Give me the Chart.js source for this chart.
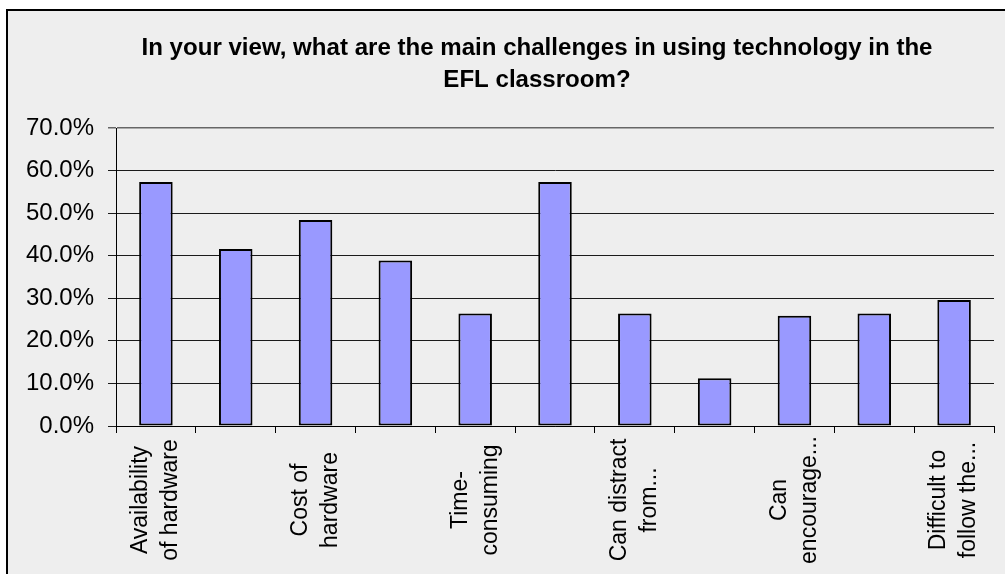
<!DOCTYPE html>
<html>
<head>
<meta charset="utf-8">
<title>Main challenges in using technology in the EFL classroom</title>
<script src="https://cdn.jsdelivr.net/npm/chart.js@4.4.1/dist/chart.umd.min.js"></script>
<style>
  body { margin: 0; background: #fff; }
  #wrap { width: 1005px; height: 574px; }
</style>
</head>
<body>
<div id="wrap"><canvas id="chart" width="1005" height="574"></canvas></div>
<script>
// chart data
var titleLines = ['In your view, what are the main challenges in using technology in the', 'EFL classroom?'];
var categories = [
  ['Availability', 'of hardware'],
  '',
  ['Cost of', 'hardware'],
  '',
  ['Time-', 'consuming'],
  '',
  ['Can distract', 'from...'],
  '',
  ['Can', 'encourage...'],
  '',
  ['Difficult to', 'follow the...']
];
var values = [57.3, 41.6, 48.4, 38.9, 26.4, 57.3, 26.4, 11.2, 25.9, 26.4, 29.6];
var yMax = 70;
var yStep = 10;

var FONT = '"Liberation Sans", Arial, sans-serif';

// grey panel with the black frame on left and top
var framePlugin = {
  id: 'frame',
  beforeDraw: function(chart) {
    var ctx = chart.ctx;
    ctx.save();
    ctx.fillStyle = '#fff';
    ctx.fillRect(0, 0, chart.width, chart.height);
    ctx.fillStyle = '#eeeeee';
    ctx.fillRect(7, 10, chart.width - 7, chart.height - 10);
    ctx.strokeStyle = '#000';
    ctx.lineWidth = 2;
    ctx.beginPath();
    ctx.moveTo(7, chart.height);
    ctx.lineTo(7, 10);
    ctx.lineTo(chart.width, 10);
    ctx.stroke();
    ctx.restore();
  }
};

// title, squeezed a bit like the original
var titlePlugin = {
  id: 'bigTitle',
  afterDraw: function(chart) {
    var ctx = chart.ctx;
    ctx.save();
    ctx.font = 'bold 23px ' + FONT;
    ctx.fillStyle = '#000';
    ctx.textAlign = 'center';
    ctx.textBaseline = 'alphabetic';
    var sx = 791 / ctx.measureText(titleLines[0]).width;
    ctx.translate(537, 0);
    ctx.scale(sx, 1);
    ctx.fillText(titleLines[0], 0, 55);
    ctx.fillText(titleLines[1], 0, 87);
    ctx.restore();
  }
};

// vertical category labels, lines centred on each other
var xLabelPlugin = {
  id: 'xLabels',
  afterDraw: function(chart) {
    var xs = chart.scales.x, ctx = chart.ctx;
    ctx.save();
    ctx.font = '23px ' + FONT;
    ctx.fillStyle = '#000';
    ctx.textAlign = 'center';
    ctx.textBaseline = 'middle';
    categories.forEach(function(lab, i) {
      if (!lab) return;
      var lines = [].concat(lab);
      var cx = xs.getPixelForValue(i);
      ctx.save();
      ctx.translate(cx, 500);
      ctx.rotate(-Math.PI / 2);
      lines.forEach(function(t, k) {
        ctx.fillText(t, 0, (k - (lines.length - 1) / 2) * 30);
      });
      ctx.restore();
    });
    ctx.restore();
  }
};

var chart = new Chart(document.getElementById('chart'), {
  type: 'bar',
  data: {
    labels: categories.map(function(c) { return [].concat(c).join(' '); }),
    datasets: [{
      data: values,
      backgroundColor: '#9999ff',
      borderColor: '#000',
      borderWidth: 2,
      borderSkipped: false,
      barPercentage: 0.42,
      categoryPercentage: 1
    }]
  },
  options: {
    responsive: false,
    animation: false,
    layout: { padding: { top: 128, right: 11, left: 0, bottom: 0 } },
    plugins: {
      legend: { display: false },
      title: { display: false },
      tooltip: { enabled: false }
    },
    scales: {
      x: {
        grid: { drawOnChartArea: false, drawTicks: true, tickLength: 7, offset: true, color: '#000' },
        border: { color: '#000', width: 1 },
        ticks: { display: false },
        afterFit: function(s) { s.height = 148; }
      },
      y: {
        min: 0,
        max: yMax,
        ticks: {
          stepSize: yStep,
          color: '#000',
          padding: 14,
          font: { family: FONT, size: 24 },
          callback: function(v) { return v.toFixed(1) + '%'; }
        },
        grid: {
          tickLength: 8,
          color: function(c) { return c.tick && c.tick.value === yMax ? '#666' : '#1a1a1a'; },
          lineWidth: function(c) { return c.tick && c.tick.value === yMax ? 1.5 : 1; }
        },
        border: { color: '#000', width: 1 },
        afterFit: function(s) { s.width = 116; }
      }
    }
  },
  plugins: [framePlugin, titlePlugin, xLabelPlugin]
});
</script>
</body>
</html>
